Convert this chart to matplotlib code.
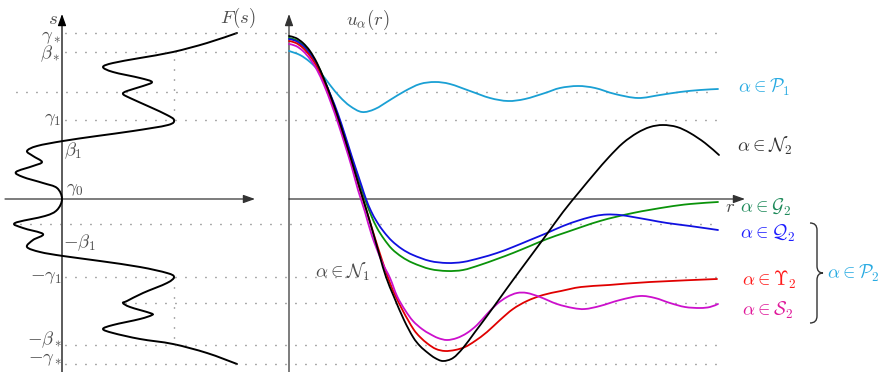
import matplotlib
matplotlib.use("Agg")
import matplotlib.pyplot as plt
import numpy as np
from matplotlib.path import Path
from matplotlib.patches import PathPatch, FancyArrowPatch

plt.rcParams['mathtext.fontset'] = 'cm'

# F(s), listed from top (s = gamma_*) to bottom (s = -gamma_*)
F_vals = [175, 145, 111, 78, 51, 41, 51, 78, 90, 81, 65, 61, 68, 88, 105, 112, 106, 71, 35, 1,
          -25, -35, -29, -20, -29, -46, -39, -19, -5, 0,
          -5, -17, -47, -39, -19, -29, -35, -22, 1, 38, 78, 105, 112, 105, 81, 65, 61, 68, 88,
          90, 78, 51, 41, 51, 78, 111, 145, 175]
s_vals = [166, 156, 147, 141, 136, 132, 127, 121, 117, 113, 108, 105, 101, 92, 84, 79, 74, 68, 63, 58,
          53, 48, 43, 37, 33, 27, 22, 16, 11, 0,
          -11, -17, -24, -29, -35, -41, -48, -53, -57, -62, -68, -74, -78, -84, -94, -102, -104, -108, -114,
          -116, -120, -126, -130, -134, -140, -145, -154, -165]

# u_alpha(r) profiles
r_P1 = [0, 11, 21, 31, 41, 51, 61, 73, 86, 101, 116, 131, 146, 161, 181, 201, 219, 236, 256, 271,
        289, 306, 326, 349, 371, 391, 411, 429]
u_P1 = [148, 144, 137, 127, 114, 102, 93, 87, 90, 99, 108, 115, 117, 115, 108, 101, 98, 100, 106, 111,
        113, 111, 105, 101, 104, 107, 109, 110]

r_N = [0, 7, 14, 21, 28, 35, 42, 49, 56, 63, 71, 78, 85, 91, 97, 105, 115, 124, 131, 139,
       146, 154, 164, 174, 186, 198, 211, 224, 241, 258, 274, 291, 306, 320, 334, 348, 361, 374, 388, 401,
       416, 430]
u_N = [163, 161, 156, 148, 136, 120, 102, 82, 60, 37, 10, -13, -37, -58, -78, -98, -121, -138, -147, -154,
       -159, -162, -159, -149, -133, -117, -99, -81, -58, -35, -13, 8, 26, 42, 56, 66, 72, 74, 72, 66,
       56, 44]

r_G2 = [0, 7, 14, 21, 28, 35, 42, 49, 56, 63, 69, 73, 77, 82, 88, 95, 103, 113, 124, 141,
        158, 174, 191, 208, 224, 241, 258, 278, 311, 344, 378, 401, 429]
u_G2 = [161, 159, 154, 146, 135, 120, 102, 83, 62, 40, 22, 9, -3, -16, -29, -40, -50, -58, -64, -70,
        -72, -71, -66, -60, -54, -47, -40, -33, -22, -14, -8, -5, -3]

r_Q2 = [0, 7, 14, 21, 28, 35, 42, 49, 56, 63, 69, 73, 77, 82, 88, 95, 103, 113, 124, 141,
        158, 174, 191, 208, 224, 241, 258, 274, 291, 306, 318, 331, 344, 361, 378, 401, 429]
u_Q2 = [160, 158, 153, 145, 134, 119, 103, 85, 64, 42, 24, 12, 0, -12, -23, -33, -42, -50, -56, -62,
        -64, -63, -59, -54, -48, -41, -34, -27, -21, -17, -15.5, -16, -18, -21, -24, -27, -31]

r_U2 = [0, 7, 14, 21, 28, 35, 42, 49, 56, 63, 71, 78, 85, 93, 101, 107, 114, 119, 125, 131,
        139, 147, 156, 166, 176, 186, 198, 211, 224, 238, 254, 272, 292, 320, 361, 428]
u_U2 = [158, 156, 151, 143, 132, 117, 99, 79, 58, 36, 9, -13, -36, -61, -84, -98, -112, -121, -131, -138,
        -145, -150, -152, -151, -148, -142, -133, -121, -110, -102, -96, -92, -88, -86, -83, -80]

r_S2 = [0, 7, 14, 21, 28, 35, 42, 49, 56, 63, 69, 76, 83, 93, 101, 108, 116, 124, 133, 141,
        149, 158, 168, 178, 188, 198, 208, 218, 228, 238, 251, 268, 284, 296, 311, 331, 351, 366, 381, 396,
        411, 421, 429]
u_S2 = [155, 153, 148, 140, 129, 114, 96, 76, 54, 31, 9, -13, -37, -63, -79, -97, -111, -122, -130, -135,
        -139, -141, -139, -134, -126, -115, -105, -98, -94, -94, -98, -105, -109, -110, -107, -101, -97, -99, -104, -108,
        -109, -108, -105]

# horizontal reference levels and where each dotted line starts (r coordinate)
levels = [166, 147, 107, 79, -25, -78, -104, -146, -165]
level_start = [-224, -224, -273, -224, -269, -224, -164, -224, -224]
level_end = 427
F_gamma1, gamma1, beta_star = 112, 79, 147


def smooth_path(x, y):
    # Catmull-Rom through the points, handed to matplotlib as cubic Beziers
    p = np.column_stack([x, y]).astype(float)
    e = np.vstack([p[0], p, p[-1]])
    verts, codes = [p[0]], [Path.MOVETO]
    for i in range(len(p) - 1):
        p0, p1, p2, p3 = e[i], e[i + 1], e[i + 2], e[i + 3]
        verts += [p1 + (p2 - p0) / 6, p2 - (p3 - p1) / 6, p2]
        codes += [Path.CURVE4] * 3
    return Path(verts, codes)


def curve(ax, x, y, color, lw=1.3):
    ax.add_patch(PathPatch(smooth_path(x, y), fill=False, ec=color, lw=lw,
                           capstyle='round', joinstyle='round', zorder=3))


def arrow(ax, x0, y0, x1, y1, color='#333333'):
    ax.add_patch(FancyArrowPatch((x0, y0), (x1, y1), arrowstyle='-|>,head_length=0.7,head_width=0.25',
                                 mutation_scale=10, color=color, lw=0.9, shrinkA=0, shrinkB=0, zorder=2))


fig = plt.figure(figsize=(8.92, 3.72), dpi=100)
axL = fig.add_axes([0, 0, 1, 1])
axR = fig.add_axes([0, 0, 1, 1])
axL.set_xlim(-62, 830)
axR.set_xlim(-289, 603)
for ax in (axL, axR):
    ax.set_ylim(-173, 199)
    ax.axis('off')
    ax.patch.set_visible(False)

dot = dict(color='#555555', lw=1.0, linestyle=(0, (0.7, 6.5)), zorder=1)
for lev, x0 in zip(levels, level_start):
    axR.plot([x0, level_end], [lev, lev], **dot)
axL.plot([F_gamma1, F_gamma1], [gamma1, beta_star], **dot)
axL.plot([F_gamma1, F_gamma1], [-78, -146], **dot)

# axes
arrow(axL, 0, -175, 0, 185, color='black')
arrow(axL, -57, 0, 193, 0)
arrow(axR, 0, -175, 0, 185)
arrow(axR, 0, 0, 456, 0)

curve(axL, F_vals, s_vals, 'black', lw=1.4)

curve(axR, r_P1, u_P1, '#1aa0d4')
curve(axR, r_G2, u_G2, '#0a930a')
curve(axR, r_Q2, u_Q2, '#1010e0')
curve(axR, r_U2, u_U2, '#e00000')
curve(axR, r_S2, u_S2, '#cc10cc')
curve(axR, r_N, u_N, 'black')

gray = '#4d4d4d'
fs = 13.5
axL.text(-9, 181, r'$s$', color=gray, fontsize=fs, ha='center', va='center')
axL.text(-1, 163, r'$\gamma_*$', color=gray, fontsize=fs, ha='right', va='center')
axL.text(-1, 145, r'$\beta_*$', color=gray, fontsize=fs, ha='right', va='center')
axL.text(-1, 81, r'$\gamma_1$', color=gray, fontsize=fs, ha='right', va='center')
axL.text(2, 48, r'$\beta_1$', color=gray, fontsize=fs, ha='left', va='center')
axL.text(4, 10, r'$\gamma_0$', color=gray, fontsize=fs, ha='left', va='center')
axL.text(1, -44, r'$-\beta_1$', color=gray, fontsize=fs, ha='left', va='center')
axL.text(0, -78, r'$-\gamma_1$', color=gray, fontsize=fs, ha='right', va='center')
axL.text(0, -141, r'$-\beta_*$', color=gray, fontsize=fs, ha='right', va='center')
axL.text(0, -160, r'$-\gamma_*$', color=gray, fontsize=fs, ha='right', va='center')
axL.text(176, 181, r'$F(s)$', color=gray, fontsize=fs, ha='center', va='center')

axR.text(79, 179, r'$u_\alpha(r)$', color=gray, fontsize=fs, ha='center', va='center')
axR.text(441, -8, r'$r$', color=gray, fontsize=fs, ha='center', va='center')
axR.text(26, -73, r'$\alpha\in\mathcal{N}_1$', color=gray, fontsize=fs, ha='left', va='center')
axR.text(449, 112, r'$\alpha\in\mathcal{P}_1$', color='#29abe2', fontsize=fs, ha='left', va='center')
axR.text(448, 53, r'$\alpha\in\mathcal{N}_2$', color='#333333', fontsize=fs, ha='left', va='center')
axR.text(451, -8, r'$\alpha\in\mathcal{G}_2$', color='#1e8a5a', fontsize=fs, ha='left', va='center')
axR.text(451, -34, r'$\alpha\in\mathcal{Q}_2$', color='#1f1fff', fontsize=fs, ha='left', va='center')
axR.text(453, -81, r'$\alpha\in\Upsilon_2$', color='#ff1a1a', fontsize=fs, ha='left', va='center')
axR.text(453, -111, r'$\alpha\in\mathcal{S}_2$', color='#e0189a', fontsize=fs, ha='left', va='center')
axR.text(538, -74, r'$\alpha\in\mathcal{P}_2$', color='#29abe2', fontsize=fs, ha='left', va='center')

# curly brace grouping Q2, Upsilon2, S2
bx, by0, by1, tip = 521, -24, -124, -74
brace = Path([(bx, by0), (bx + 7, by0), (bx + 7, by0 - 7),
              (bx + 7, tip + 7), (bx + 7, tip), (bx + 13, tip),
              (bx + 7, tip), (bx + 7, tip - 7),
              (bx + 7, by1 + 7), (bx + 7, by1), (bx, by1)],
             [Path.MOVETO, Path.CURVE3, Path.CURVE3,
              Path.LINETO, Path.CURVE3, Path.CURVE3,
              Path.CURVE3, Path.CURVE3,
              Path.LINETO, Path.CURVE3, Path.CURVE3])
axR.add_patch(PathPatch(brace, fill=False, ec='#333333', lw=1.0))

fig.savefig('out.png', dpi=100)
